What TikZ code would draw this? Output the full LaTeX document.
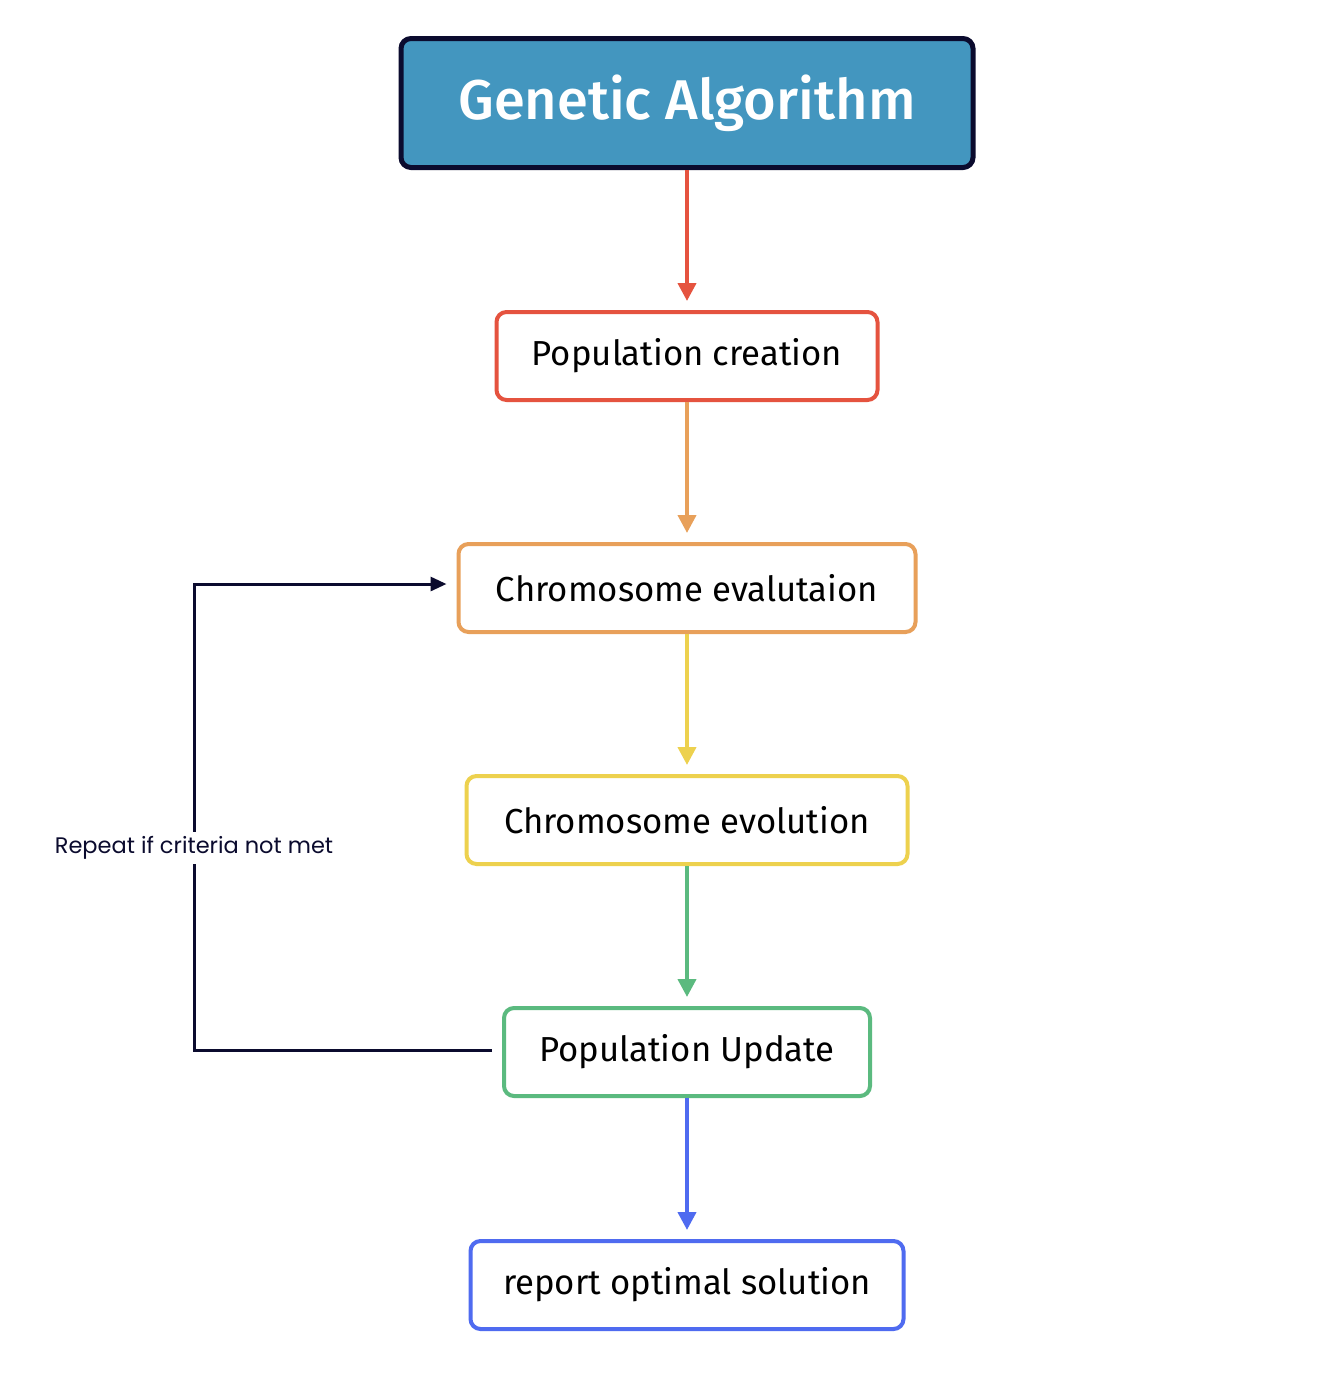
\documentclass[tikz,border=0pt]{standalone}
\usepackage{fontspec}
\setmainfont{Fira Sans}[BoldFont={Fira Sans Medium}]
\newfontfamily\labelfont{Poppins}
\usetikzlibrary{arrows.meta}
\definecolor{titlefill}{HTML}{4396BF}
\definecolor{navy}{HTML}{0B0B2E}
\definecolor{cred}{HTML}{E5533F}
\definecolor{corange}{HTML}{E8A05A}
\definecolor{cyellow}{HTML}{EDD14E}
\definecolor{cgreen}{HTML}{5BBA7F}
\definecolor{cblue}{HTML}{4F6BF0}
\tikzset{
  stepbox/.style={draw, line width=4pt, rounded corners=10pt, fill=white, minimum height=88pt, inner sep=0pt, font=\fontsize{34.7}{40}\selectfont, text=black},
  flow/.style={line width=4pt, -{Triangle[length=18pt,width=18pt]}},
}
\begin{document}
\begin{tikzpicture}[x=1pt,y=-1pt]
\useasboundingbox (0,0) rectangle (1332,1390);
\fill[white] (0,0) rectangle (1332,1390);
\node[draw=navy, line width=5pt, rounded corners=10pt, fill=titlefill, minimum width=572pt, minimum height=129pt, inner sep=0pt, text=white, font=\bfseries\fontsize{56}{64}\selectfont] (ga) at (687,103) {Genetic Algorithm};
\node[stepbox, draw=cred, minimum width=381pt] (pc) at (687,356) {Population creation};
\node[stepbox, draw=corange, minimum width=457pt] (ce) at (687,588) {Chromosome evalutaion};
\node[stepbox, draw=cyellow, minimum width=441pt] (cv) at (687,820) {Chromosome evolution};
\node[stepbox, draw=cgreen, minimum width=366pt] (pu) at (687,1052) {Population Update};
\node[stepbox, draw=cblue, minimum width=433pt] (ro) at (687,1285) {report optimal solution};
\draw[flow, cred] (ga.south) -- ([yshift=9pt]pc.north);
\draw[flow, corange] (pc.south) -- ([yshift=9pt]ce.north);
\draw[flow, cyellow] (cv.north |- ce.south) -- ([yshift=9pt]cv.north);
\draw[flow, cgreen] (cv.south) -- ([yshift=9pt]pu.north);
\draw[flow, cblue] (pu.south) -- ([yshift=9pt]ro.north);
\coordinate (lb) at (194,1050);
\coordinate (lt) at (194,584);
\draw[navy, line width=3pt, -{Triangle[length=16pt,width=14pt]}] ([xshift=-10pt]pu.west |- lb) -- (lb) -- (lt) -- ([xshift=-10pt]ce.west |- lt);
\node[fill=white, inner xsep=0pt, inner ysep=4pt, text=navy, font=\labelfont\fontsize{22.5}{26}\selectfont] (lab) at (194,848) {Repeat if criteria not met};
\end{tikzpicture}
\end{document}
